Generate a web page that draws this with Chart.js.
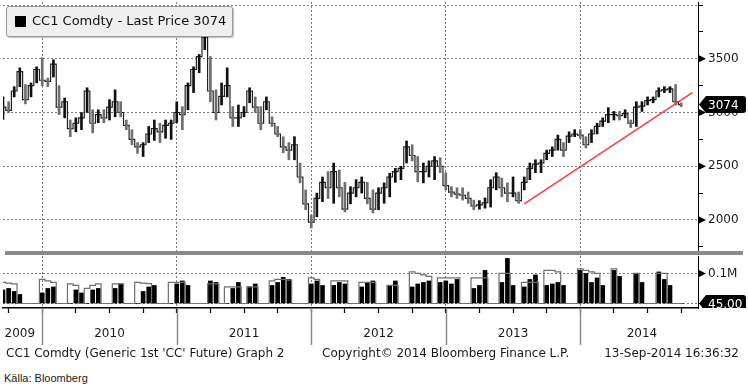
<!DOCTYPE html>
<html>
<head>
<meta charset="utf-8">
<script src="https://cdn.jsdelivr.net/npm/chart.js@4.4.1/dist/chart.umd.min.js"></script>
<style>
  html, body { margin: 0; padding: 0; background: #fff; }
  body { width: 748px; height: 391px; position: relative; overflow: hidden; font-family: "DejaVu Sans", sans-serif; color: #1a1a1a; }
  canvas { position: absolute; left: 0; }
  #priceChart { top: 0; }
  #volChart { top: 255px; }
  .sep { position: absolute; left: 5px; top: 251px; width: 738px; height: 4px; background: #8a8a8a; }
  .legend { position: absolute; left: 6px; top: 6px; width: 225px; height: 29px; background: #efefef; border: 1px solid #9a9a9a; border-radius: 3px; box-shadow: 1px 1px 1px rgba(0,0,0,0.25); }
  .legend .sq { position: absolute; left: 8px; top: 9px; width: 11px; height: 11px; background: #000; }
  .legend .lbl { position: absolute; left: 25px; top: 6px; font-size: 13px; line-height: 16px; white-space: nowrap; color: #111; }
  .txt { position: absolute; white-space: nowrap; font-size: 12px; line-height: 14px; color: #1a1a1a; }
  .src { position: absolute; left: 4px; top: 371px; font-family: "Liberation Sans", Arial, sans-serif; font-size: 11px; line-height: 14px; color: #222; }
</style>
</head>
<body>
<canvas id="priceChart" width="748" height="253"></canvas>
<canvas id="volChart" width="748" height="93"></canvas>
<div class="sep"></div>
<div class="legend"><div class="sq"></div><div class="lbl">CC1 Comdty - Last Price 3074</div></div>
<div class="txt" style="left:6px;top:346px">CC1 Comdty (Generic 1st 'CC' Future) Graph 2</div>
<div class="txt" style="left:322px;top:346px">Copyright© 2014 Bloomberg Finance L.P.</div>
<div class="txt" style="right:9px;top:346px">13-Sep-2014 16:36:32</div>
<div class="src">Källa: Bloomberg</div>
<script>
// ===== DATA =====
// half-month steps, 16 Sep 2009 -> 16 Nov 2014
const labels = []
for (let y = 2009; y <= 2014; y++) {
  for (let m = 1; m <= 12; m++) {
    for (const d of [1, 16]) {
      const key = y * 10000 + m * 100 + d
      if (key >= 20090916 && key <= 20141116) {
        labels.push(`${y}-${String(m).padStart(2, "0")}-${String(d).padStart(2, "0")}`)
      }
    }
  }
}

const priceHigh = [
  3145, 3100, 3240, 3415, 3260, 3275, 3425, 3510, 3320, 3490,
  3250, 3135, 2930, 2950, 3000, 3230, 3025, 3025, 3025, 3120,
  3210, 3100, 2930, 2840, 2720, 2720, 2870, 2930, 2900, 2930,
  2930, 3100, 3055, 3275, 3425, 3540, 3800, 3520, 3210, 3275,
  3415, 3055, 3070, 3055, 3230, 3145, 3055, 3145, 2960, 2870,
  2775, 2720, 2775, 2530, 2280, 2045, 2250, 2400, 2450, 2530,
  2465, 2350, 2310, 2375, 2400, 2350, 2280, 2300, 2345, 2435,
  2480, 2500, 2735, 2700, 2590, 2530, 2550, 2590, 2580, 2440,
  2310, 2300, 2300, 2260, 2185, 2180, 2205, 2375, 2440, 2390,
  2345, 2400, 2260, 2400, 2530, 2560, 2560, 2650, 2680, 2790,
  2720, 2820, 2840, 2840, 2775, 2840, 2900, 2950, 3045, 3010,
  3010, 3025, 2930, 3100, 3100, 3145, 3145, 3230, 3240, 3240,
  3260, 3090
]
const priceLow = [
  2935, 3000, 3145, 3240, 3080, 3145, 3275, 3250, 3240, 3330,
  2980, 2950, 2775, 2820, 2840, 3000, 2810, 2905, 2905, 2930,
  2960, 2960, 2840, 2700, 2620, 2590, 2720, 2740, 2720, 2760,
  2750, 2905, 2840, 3025, 3185, 3370, 3585, 3100, 2930, 3070,
  3145, 2870, 2870, 2960, 3090, 3000, 2840, 3025, 2870, 2775,
  2625, 2560, 2560, 2345, 2095, 1925, 2030, 2170, 2200, 2155,
  2215, 2075, 2150, 2215, 2250, 2150, 2065, 2095, 2155, 2215,
  2350, 2375, 2530, 2550, 2355, 2345, 2400, 2375, 2440, 2280,
  2215, 2200, 2185, 2155, 2095, 2100, 2110, 2120, 2280, 2215,
  2170, 2215, 2155, 2280, 2375, 2440, 2440, 2560, 2590, 2650,
  2590, 2720, 2775, 2760, 2670, 2720, 2800, 2870, 2905, 2930,
  2930, 2950, 2860, 2870, 3010, 3070, 3090, 3145, 3185, 3185,
  3070, 3055
]
const priceClose = [
  3050, 3020, 3200, 3380, 3120, 3250, 3400, 3300, 3290, 3450,
  3050, 3100, 2850, 2900, 2950, 3200, 2900, 2980, 2950, 3050,
  3100, 3000, 2880, 2750, 2680, 2700, 2800, 2850, 2820, 2880,
  2900, 3000, 2980, 3250, 3400, 3520, 3700, 3200, 3000, 3150,
  3250, 2950, 2950, 3000, 3200, 3050, 2900, 3100, 2900, 2800,
  2680, 2650, 2700, 2400, 2150, 1980, 2200, 2350, 2300, 2450,
  2300, 2100, 2250, 2300, 2350, 2200, 2100, 2250, 2300, 2400,
  2450, 2480, 2680, 2600, 2450, 2450, 2500, 2550, 2500, 2320,
  2260, 2240, 2230, 2200, 2130, 2140, 2160, 2300, 2400, 2300,
  2250, 2250, 2180, 2350, 2480, 2520, 2530, 2620, 2650, 2750,
  2650, 2780, 2800, 2790, 2700, 2800, 2870, 2920, 2980, 2980,
  2970, 2990, 2900, 3050, 3060, 3110, 3120, 3200, 3210, 3220,
  3100, 3074
]

// volume (thousand contracts) and the grey rolling line
const volume = [
  45, 50, 40, 30, 0, 0, 0, 35, 50, 55,
  0, 0, 0, 45, 35, 0, 45, 50, 0, 0,
  50, 65, 0, 0, 0, 40, 55, 60, 0, 0,
  0, 65, 75, 60, 0, 0, 0, 75, 70, 0,
  0, 50, 70, 0, 55, 65, 0, 0, 60, 70,
  87, 80, 0, 0, 0, 65, 75, 60, 0, 60,
  70, 65, 0, 0, 55, 70, 75, 0, 0, 60,
  75, 0, 0, 55, 65, 70, 75, 0, 70, 75,
  65, 80, 0, 0, 50, 60, 110, 0, 0, 70,
  150, 60, 0, 55, 80, 95, 0, 60, 65, 70,
  60, 0, 0, 110, 100, 70, 85, 60, 0, 110,
  90, 0, 0, 100, 70, 0, 0, 105, 80, 60,
  0, 0
]
const openInt = [
  70, 68, 65, 0, 0, 0, 0, 80, 75, 70,
  0, 0, 65, 60, 0, 50, 60, 65, 0, 0,
  65, 65, 0, 0, 70, 68, 66, 0, 0, 0,
  70, 70, 70, 0, 0, 0, 0, 65, 65, 0,
  55, 55, 55, 0, 55, 55, 0, 0, 75, 80,
  80, 78, 0, 0, 0, 85, 80, 0, 0, 75,
  75, 75, 0, 0, 70, 70, 70, 0, 0, 60,
  60, 0, 0, 105, 100, 95, 90, 0, 85, 85,
  85, 85, 0, 0, 85, 85, 85, 0, 0, 100,
  100, 0, 0, 70, 70, 70, 0, 110, 110, 105,
  0, 0, 0, 115, 110, 105, 100, 0, 0, 115,
  0, 0, 0, 100, 0, 0, 0, 100, 100, 0,
  0, 0
]

const trendDates  = ["2013-08-01", "2014-11-01"]
const trendValues = [2150, 3185]

const priceTicks  = [1750, 2000, 2250, 2500, 2750, 3000, 3250, 3500, 3750, 4000]
const priceLabels = [2000, 2500, 3000, 3500]
const volTicks    = [0, 50, 100, 150]
const yearTicks   = {
  "2009-11-01": "2009", "2010-07-01": "2010", "2011-07-01": "2011",
  "2012-07-01": "2012", "2013-07-01": "2013", "2014-06-16": "2014"
}
const lastPrice  = 3074
const lastVolume = "45.00"

// ===== HELPERS =====
const GRID = "#7a7a7a"
const isYearStart = i => (labels[i] || "").endsWith("-01-01")
const isQuarter   = i => /-(01|04|07|10)-01$/.test(labels[i] || "")

Chart.defaults.font.family = "'DejaVu Sans', sans-serif"
Chart.defaults.font.size = 12
Chart.defaults.color = "#1a1a1a"

function drawArrow(ctx, x, y) {
  ctx.save()
  ctx.fillStyle = "#000"
  ctx.beginPath()
  ctx.moveTo(x, y - 4)
  ctx.lineTo(x + 8, y)
  ctx.lineTo(x, y + 4)
  ctx.closePath()
  ctx.fill()
  ctx.restore()
}

function drawTag(ctx, x, y, text) {
  ctx.save()
  ctx.fillStyle = "#000"
  ctx.beginPath()
  ctx.moveTo(x, y)
  ctx.lineTo(x + 7, y - 8.5)
  ctx.lineTo(x + 44, y - 8.5)
  ctx.quadraticCurveTo(x + 47, y - 8.5, x + 47, y - 5.5)
  ctx.lineTo(x + 47, y + 5.5)
  ctx.quadraticCurveTo(x + 47, y + 8.5, x + 44, y + 8.5)
  ctx.lineTo(x + 7, y + 8.5)
  ctx.closePath()
  ctx.fill()
  ctx.fillStyle = "#fff"
  ctx.font = "12px 'DejaVu Sans'"
  ctx.textBaseline = "middle"
  ctx.fillText(text, x + 9, y + 1)
  ctx.restore()
}

// ===== PRICE PANEL =====
const priceDeco = {
  id: "priceDeco",
  afterDraw(chart) {
    const { ctx, chartArea, scales: { y } } = chart
    priceLabels.forEach(v => drawArrow(ctx, chartArea.right, y.getPixelForValue(v)))
    drawTag(ctx, chartArea.right + 1, y.getPixelForValue(lastPrice), String(lastPrice))
  }
}

new Chart(document.getElementById("priceChart"), {
  type: "bar",
  data: {
    labels,
    datasets: [
      {
        type: "line",
        data: trendDates.map((d, i) => ({ x: d, y: trendValues[i] })),
        borderColor: "#ff3b3b",
        borderWidth: 1.5,
        pointRadius: 0,
        order: 0
      },
      {
        type: "line",
        data: priceClose,
        stepped: "middle",
        borderColor: "#222",
        borderWidth: 1.2,
        pointRadius: 0,
        order: 2
      },
      {
        type: "bar",
        data: priceHigh.map((h, i) => [priceLow[i], h]),
        backgroundColor: c => (c.dataIndex > 0 && priceClose[c.dataIndex] < priceClose[c.dataIndex - 1]) ? "#6e6e6e" : "#111",
        barThickness: 2,
        order: 1
      }
    ]
  },
  options: {
    responsive: false,
    animation: false,
    layout: { padding: { left: 3, top: 2, right: 0, bottom: 1 } },
    plugins: { legend: { display: false }, tooltip: { enabled: false } },
    scales: {
      x: {
        offset: false,
        ticks: { display: false },
        grid: { offset: false, drawTicks: false, color: c => isYearStart(c.tick?.value) ? GRID : "transparent" },
        border: { display: false, dash: [2, 2] },
        afterFit: s => { s.height = 0; s.paddingLeft = 0; s.paddingRight = 0 }
      },
      y: {
        position: "right",
        min: 1702,
        max: 4028,
        afterBuildTicks: s => { s.ticks = priceTicks.map(v => ({ value: v })) },
        ticks: { callback: v => priceLabels.includes(v) ? String(v) : "", padding: 5 },
        grid: { color: c => c.tick && c.tick.value % 500 === 0 ? GRID : "transparent", tickColor: "#000", tickLength: 5 },
        border: { color: "#000", width: 1, dash: [2, 2] },
        afterFit: s => { s.width = 50; s.paddingTop = 0; s.paddingBottom = 0 }
      }
    }
  },
  plugins: [priceDeco]
})

// ===== VOLUME PANEL =====
const volDeco = {
  id: "volDeco",
  afterDraw(chart) {
    const { ctx, chartArea, scales: { x, y } } = chart
    drawArrow(ctx, chartArea.right, y.getPixelForValue(100))
    ctx.save()
    ctx.beginPath()
    ctx.rect(chartArea.right, 0, 60, chartArea.bottom)
    ctx.clip()
    drawTag(ctx, chartArea.right + 1, y.getPixelForValue(0), lastVolume)
    ctx.restore()
    // year separators under the axis
    ctx.save()
    ctx.strokeStyle = "#8a8a8a"
    ctx.lineWidth = 1.5
    labels.forEach((l, i) => {
      if (!isYearStart(i)) return
      const px = Math.round(x.getPixelForValue(i)) + 0.5
      ctx.beginPath()
      ctx.moveTo(px, chartArea.bottom)
      ctx.lineTo(px, chartArea.bottom + 37)
      ctx.stroke()
    })
    ctx.restore()
  }
}

new Chart(document.getElementById("volChart"), {
  type: "bar",
  data: {
    labels,
    datasets: [
      {
        type: "line",
        data: openInt,
        stepped: "middle",
        borderColor: "#6f6f6f",
        borderWidth: 1.2,
        pointRadius: 0,
        order: 0
      },
      {
        type: "bar",
        data: volume,
        backgroundColor: "#000",
        barThickness: 4,
        order: 1
      }
    ]
  },
  options: {
    responsive: false,
    animation: false,
    layout: { padding: { left: 3, top: 1, right: 0, bottom: 0 } },
    plugins: { legend: { display: false }, tooltip: { enabled: false } },
    scales: {
      x: {
        offset: false,
        ticks: { autoSkip: false, maxRotation: 0, minRotation: 0, padding: 14, callback: v => yearTicks[labels[v]] || "" },
        grid: {
          offset: false,
          tickLength: 5,
          tickWidth: 1.2,
          color: c => isYearStart(c.tick?.value) ? GRID : "transparent",
          tickColor: c => isQuarter(c.tick?.value) ? "#000" : "transparent"
        },
        border: { display: true, color: "#000", width: 1.5, dash: [2, 2] },
        afterFit: s => { s.height = 40; s.paddingLeft = 0; s.paddingRight = 0 }
      },
      y: {
        position: "right",
        min: -15,
        max: 158,
        afterBuildTicks: s => { s.ticks = volTicks.map(v => ({ value: v })) },
        ticks: { callback: v => v === 100 ? "0.1M" : "", padding: 5 },
        grid: { color: c => c.tick && (c.tick.value === 0 || c.tick.value === 100) ? GRID : "transparent", tickColor: "#000", tickLength: 5 },
        border: { color: "#000", width: 1, dash: [2, 2] },
        afterFit: s => { s.width = 50; s.paddingTop = 0; s.paddingBottom = 0 }
      }
    }
  },
  plugins: [volDeco]
})
</script>
</body>
</html>
